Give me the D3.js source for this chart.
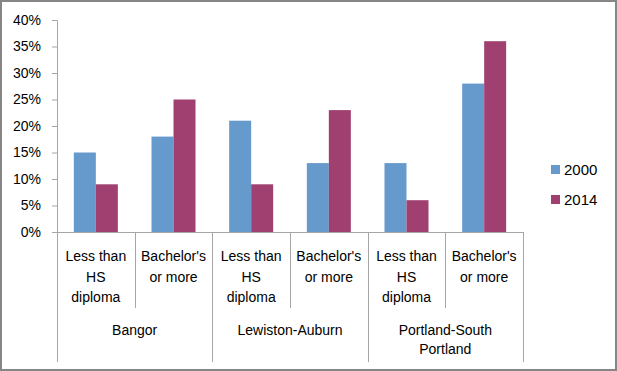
<!DOCTYPE html>
<html>
<head>
<script src="https://d3js.org/d3.v7.min.js"></script>
<style>
  body { margin: 0; background: #fff; }
  svg text { font-family: "Liberation Sans", Arial, sans-serif; font-size: 14px; fill: #000; }
</style>
</head>
<body>
<svg id="chart" width="617" height="371"></svg>
<script>
  // data
  let regions = ['Bangor', 'Lewiston-Auburn', 'Portland-South Portland'];
  let regionLines = [['Bangor'], ['Lewiston-Auburn'], ['Portland-South', 'Portland']];
  let levels = ['Less than HS diploma', "Bachelor's or more"];
  let levelLines = [['Less than', 'HS', 'diploma'], ["Bachelor's", 'or more']];
  let years = ['2000', '2014'];
  let values2000 = [15, 18, 21, 13, 13, 28];
  let values2014 = [9, 25, 9, 23, 6, 36];
  let yTicks = [0, 5, 10, 15, 20, 25, 30, 35, 40];
  let colors = ['#6699cc', '#a04070'];

  let svg = d3.select('#chart');
  let axisColor = '#a6a6a6';

  // outer frame
  svg.append('rect')
    .attr('x', 1).attr('y', 1).attr('width', 615).attr('height', 369)
    .attr('fill', 'none').attr('stroke', '#868686').attr('stroke-width', 2);

  let plotLeft = 57, plotRight = 523, plotTop = 20, plotBottom = 232;

  // one slot per region/level pair
  let cats = [];
  regions.forEach((r, ri) => levels.forEach((l, li) => cats.push({ key: ri + '|' + li, ri: ri, li: li })));
  let series = [values2000, values2014];

  let x = d3.scaleBand().domain(cats.map(c => c.key)).range([plotLeft, plotRight]).paddingInner(0).paddingOuter(0);
  let xInner = d3.scaleBand().domain(years).range([0, 44]);
  let y = d3.scaleLinear().domain([0, 40]).range([plotBottom, plotTop]);

  // bars
  cats.forEach((c, i) => {
    let g = svg.append('g').attr('transform', `translate(${x(c.key) + (x.bandwidth() - 44) / 2},0)`);
    g.selectAll('rect')
      .data(years.map((yr, k) => ({ yr: yr, v: series[k][i], k: k })))
      .enter().append('rect')
      .attr('x', d => xInner(d.yr))
      .attr('width', xInner.bandwidth())
      .attr('y', d => y(d.v))
      .attr('height', d => plotBottom - y(d.v))
      .attr('fill', d => colors[d.k]);
  });

  // y axis
  let yAxis = d3.axisLeft(y).tickValues(yTicks).tickFormat(d => d + '%').tickSize(5).tickPadding(11);
  let ya = svg.append('g').attr('transform', `translate(${plotLeft},0)`).call(yAxis);
  ya.selectAll('path, line').attr('stroke', axisColor);
  ya.selectAll('text').style('font-family', '"Liberation Sans", Arial, sans-serif').style('font-size', '14px').attr('fill', '#000');

  // x axis baseline
  svg.append('line').attr('x1', plotLeft).attr('x2', plotRight).attr('y1', plotBottom + 0.5).attr('y2', plotBottom + 0.5)
    .attr('stroke', axisColor);

  // dividers: short between levels, long between regions
  let edges = d3.range(cats.length + 1).map(i => plotLeft + i * x.step());
  edges.forEach((ex, i) => {
    let long = i % levels.length === 0;
    svg.append('line')
      .attr('x1', Math.round(ex) + 0.5).attr('x2', Math.round(ex) + 0.5)
      .attr('y1', plotBottom).attr('y2', long ? 362 : 308)
      .attr('stroke', axisColor);
  });

  // level labels
  cats.forEach(c => {
    let t = svg.append('text').attr('text-anchor', 'middle')
      .attr('x', x(c.key) + x.bandwidth() / 2).attr('y', 261);
    levelLines[c.li].forEach((ln, k) => t.append('tspan').attr('x', x(c.key) + x.bandwidth() / 2)
      .attr('dy', k === 0 ? 0 : 20.5).text(ln));
  });

  // region labels
  regions.forEach((r, ri) => {
    let cx = plotLeft + (ri * levels.length + levels.length / 2) * x.step();
    let t = svg.append('text').attr('text-anchor', 'middle').attr('x', cx).attr('y', 335);
    regionLines[ri].forEach((ln, k) => t.append('tspan').attr('x', cx).attr('dy', k === 0 ? 0 : 19).text(ln));
  });

  // legend
  let legend = svg.append('g').attr('transform', 'translate(551,165)');
  years.forEach((yr, k) => {
    legend.append('rect').attr('x', 0).attr('y', k * 30).attr('width', 9).attr('height', 9).attr('fill', colors[k]);
    legend.append('text').attr('x', 13).attr('y', k * 30 + 10).style('font-size', '15px').text(yr);
  });
</script>
</body>
</html>
